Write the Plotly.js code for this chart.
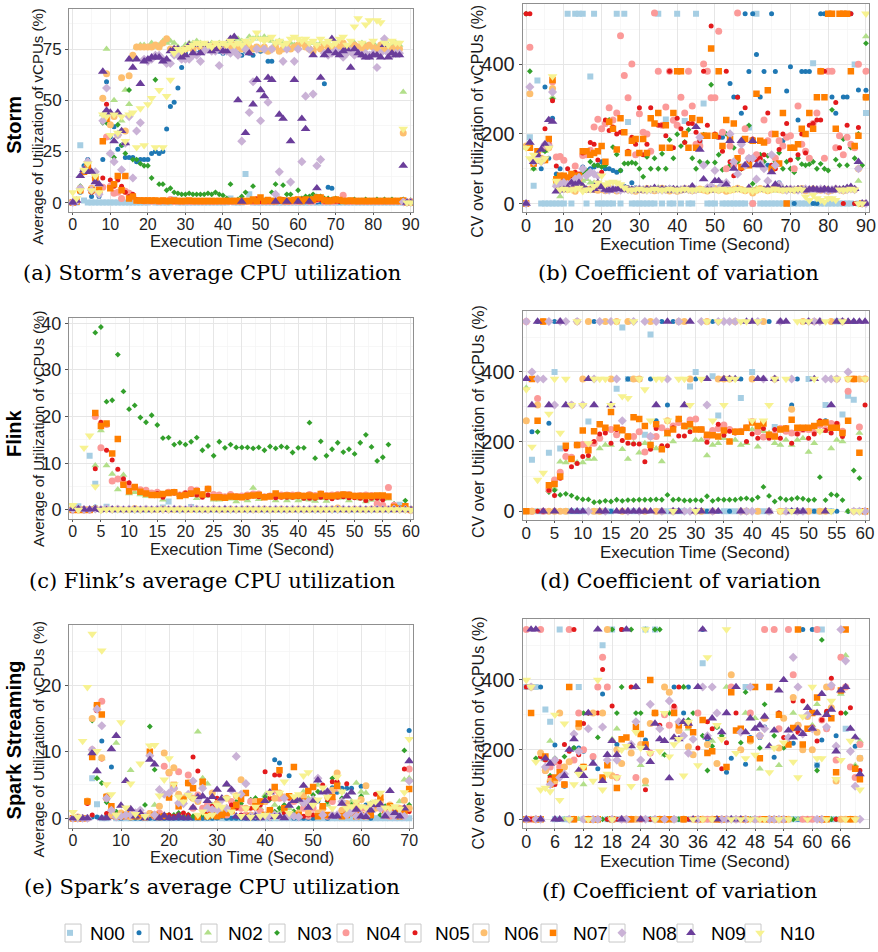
<!DOCTYPE html>
<html><head><meta charset="utf-8">
<script src="https://cdn.plot.ly/plotly-3.0.1.min.js"></script>
<style>html,body{margin:0;padding:0;background:#fff;}#chart{width:878px;height:952px;}</style>
</head><body><div id="chart"></div>
<script>
const seriesNames = ['N00','N01','N02','N03','N04','N05','N06','N07','N08','N09','N10'];
const seriesColors = ['#A6CEE3','#1F78B4','#B2DF8A','#33A02C','#FB9A99','#E31A1C','#FDBF6F','#FF7F00','#CAB2D6','#6A3D9A','#F7F291'];
const seriesSymbols = ['square','circle','triangle-up','diamond','circle','circle','circle','square','diamond','triangle-up','triangle-down'];
const seriesSizes = [6,5,7,4.5,7,5,7,6.5,7,8.5,8.5];

const secondsStorm = [0,1,2,3,4,5,6,7,8,9,10,11,12,13,14,15,16,17,18,19,20,21,22,23,24,25,26,27,28,29,30,31,32,33,34,35,36,37,38,39,40,41,42,43,44,45,46,47,48,49,50,51,52,53,54,55,56,57,58,59,60,61,62,63,64,65,66,67,68,69,70,71,72,73,74,75,76,77,78,79,80,81,82,83,84,85,86,87,88,89,90];
const secondsFlink = [0,1,2,3,4,5,6,7,8,9,10,11,12,13,14,15,16,17,18,19,20,21,22,23,24,25,26,27,28,29,30,31,32,33,34,35,36,37,38,39,40,41,42,43,44,45,46,47,48,49,50,51,52,53,54,55,56,57,58,59,60];
const secondsSpark = [0,1,2,3,4,5,6,7,8,9,10,11,12,13,14,15,16,17,18,19,20,21,22,23,24,25,26,27,28,29,30,31,32,33,34,35,36,37,38,39,40,41,42,43,44,45,46,47,48,49,50,51,52,53,54,55,56,57,58,59,60,61,62,63,64,65,66,67,68,69,70];

// ---------- (a) Storm average ----------
const stormAvgN00 = [0,0,28,1,0,0,0,0,0,0, 0,0,0,0,0,0,0,0,0,0, 0,0.5,0,0,0,0,0,1.5,0,0, 0,0,0,0,0,0,0,0,0,0, 0,0,2,0,0,0,14,4,0,0, 0,0,0,0,0,0,0,0,0,0, 0,0,0,0,0,0,0,0,0,0, 0,0,0,0,0,0,0,0,0,0, 0,0,0,0,0,0,0,0,0,0,0];
const stormAvgN01 = [0,0.5,5,18,21,3,14,3,21,59, 32,37,26,28,22,22,22,20,21,21, 21,24,25,24,25,36,47,49,56,66, 73,76,74,73,74,75,76,75,74,74, 73,74,75,76,73,72,74,73,72,75, 74,75,69,69,0.5,0.5,0.3,0.5,0.3,0.4, 0.5,0.3,0.4,0.3,0.5,0.3,0.4,58,7.5,7, 0.5,0.3,0.5,0.4,0.3,0.5,0.3,0.4,0.3,0.5, 0.4,0.3,0.5,0.3,0.4,0.3,0.5,0.3,0.4,0,0];
const stormAvgN02 = [0,1,7,16,20,7,13,6,43,75, 24,50,34,40,55,48,70,76,77,77, 76,78,76,77,79,78,79,78,76,75, 77,78,78,79,78,77,76,78,77,78, 77,78,77,79,80,79,78,81,80,81, 80,81,80,79,78,79,78,77,78,77, 76,78,77,76,78,77,78,77,78,76, 78,79,77,76,77,78,76,78,77,76, 78,76,77,80,77,76,78,77,54,0.5,1];
const stormAvgN03 = [0,1,8,16,19,5,12,6,39,39, 38,22,38,28,24,55,21,21,19,18, 18,12,60,9,9,6,7,5,4.5,4, 4,4.5,4,4,4,4,4.5,4,5,4, 3.5,2,9,1,1.5,3,5,1,8,0.5, 2,1,1,5,9,2,8.5,4,4,1, 6,2,3,3,4,3,3,2,2,1.5, 2,1,1.5,1,1,1.5,1,1,1.5,1, 1,1.5,1,1.5,1,1.5,1,1,1.5,0.5,1];
const stormAvgN04 = [0,1,6,15,17,6,13,5,7.5,32, 8,4.5,5,2,5.5,4.5,3,1,1,0.8, 0.8,0.6,0.7,0.5,0.8,0.6,1.5,0.5,0.6,0.5, 0.6,0.5,0.5,0.6,0.5,0.5,0.6,0.5,0.5,0.6, 0.5,0.6,0.5,0.5,0.6,0.5,0.5,0.6,0.5,0.5, 0.6,0.5,0.5,0.6,0.5,1.5,0.6,0.5,0.5,0.6, 0.5,0.6,1,0.5,0.6,1.5,2,0.5,0.6,0.5, 0.6,1,3.6,0.6,0.5,0.6,0.5,0.6,0.5,0.5, 0.6,0.5,0.5,0.6,0.5,0.5,0.6,0.5,0.5,0,0.5];
const stormAvgN05 = [0,0.5,6,16,17,5,11,5,12,48, 11,8,11,8,5,3,4,1.5,1,0.8, 1,0.7,1,0.5,0.6,0.8,1,0.5,0.6,0.7, 0.5,0.6,0.7,0.5,0.6,0.5,0.7,0.5,0.6,0.5, 0.6,0.5,0.7,0.5,0.6,0.5,0.8,0.5,0.6,1.8, 0.5,0.7,0.6,0.5,1,0.5,1.5,0.6,0.5,1.2, 0.5,1.5,1,0.6,0.8,1.5,1.5,0.6,1.5,0.8, 0.6,0.5,0.7,0.5,0.6,0.5,0.7,0.5,0.6,0.5, 0.6,0.5,0.7,0.5,0.6,0.5,0.7,0.5,0.6,0,0.5];
const stormAvgN06 = [0,0.5,7,15,18,7,12,7,51,63, 38,42,33,61,35,62,72,76,76,76, 76,76,77,76,78,80,75,75,74,74, 75,76,75,77,76,75,76,75,77,76, 76,75,76,77,76,75,77,76,75,76, 75,76,74,75,76,74,75,77,75,76, 77,78,76,75,74,76,75,77,76,75, 77,76,78,76,75,77,76,75,76,77, 76,75,77,75,76,75,76,75,34,0,0];
const stormAvgN07 = [0,0.5,6,15,18,6,12,6,30,41, 7,9,13,6,13,2,3,1,1,1, 1,1,1,0.8,1,0.7,0.8,1,0.8,0.8, 0.8,1,0.7,0.8,0.8,0.7,0.8,0.8,0.7,0.8, 0.8,0.7,0.8,0.8,0.7,0.8,0.7,0.8,1.5,0.8, 2.5,0.8,1.2,0.8,0.7,1.2,1,0.8,1,1.2, 1.5,0.8,1.5,1.2,1.5,2.5,2.5,1.2,0.8,1, 1.5,1.2,0.8,0.8,1,0.8,0.7,0.8,0.7,0.8, 0.7,0.8,0.7,0.8,0.8,0.7,0.8,0.7,1,0,0];
const stormAvgN08 = [0,0.5,7,16,20,6,15,4,40,56, 24,20,33,16,29,42,12,35,39,70, 69,70,72,72,70,68,68,72,72,70, 70,70,72,72,69,74,75,74,74,67, 74,74,73,74,72,30,75,44,59,75, 40,75,49,75,4,15,69,75,10,69, 75,20,52,75,53,18,21,73,72,73, 74,73,71,73,74,72,73,72,73,72, 73,66,73,80,73,72,73,73,0.3,0,0];
const stormAvgN09 = [0,1,13,16,15,15,10,9,64,45, 44,30,44,35,29,70,66,70,58,69, 70,71,71,71,69,70,74,75,75,71, 72,77,73,77,73,77,77,74,75,77, 74,74,80,81,50,0.5,34,73,48,60, 55,52,61,60,0.5,43,41,0.5,30,60, 0.5,41,36,0.5,72,7,61,72,74,80, 73,72,74,75,66,75,73,72,71,71, 72,72,71,77,71,73,72,72,18,0,0];
const stormAvgN10 = [5,2,6,16,19,6,13,5,43,42, 33,43,34,42,30,43,44,27,46,28, 48,51,27,55,27,52,60,73,75,74, 75,76,77,78,77,78,77,76,78,77, 78,77,79,77,78,77,79,78,80,83, 80,79,80,81,78,79,77,78,80,81, 80,79,80,78,79,77,80,78,79,77, 78,80,81,77,79,86,90,78,87,89, 79,89,88,78,77,79,78,78,36,0,0];

// ---------- (b) Storm CV ----------
const stormCvN00 = [0,190,51,353,0,0,0,0,0,0, 0,545,0,545,545,545,0,365,545,0, 0,0,0,0,545,0,545,234,0,0, 0,0,0,0,0,545,0,241,0,0, 545,0,237,0,0,545,174,287,0,0, 0,191,0,0,0,0,0,0,0,218, 0,545,0,0,0,0,0,0,0,0, 0,0,0,0,0,0,403,0,0,0, 0,0,0,0,0,0,0,399,0,0,260];
const stormCvN01 = [0,175,115,125,100,335,130,245,85,100, 65,60,55,65,75,105,95,100,105,110, 120,100,100,95,90,95,50,45,60,45, 40,40,42,40,40,42,40,40,45,42, 40,40,40,40,45,40,40,40,42,40, 40,45,190,40,345,306,306,259,545,379, 545,428,306,379,110,545,379,60,180,323, 393,0,240,379,379,379,0,0,545,545, 379,306,259,545,306,306,545,0,326,0,325];
const stormCvN02 = [160,160,100,120,125,150,165,305,60,20, 45,60,55,70,60,65,70,60,60,50, 45,42,36,45,40,47,45,38,41,43, 40,37,44,41,38,46,42,39,36,40, 43,40,37,41,44,39,36,40,43,40, 38,41,45,40,37,42,44,40,38,41, 40,44,38,41,43,39,37,42,45,40, 38,41,43,40,36,40,44,41,38,39, 43,40,37,41,44,40,38,42,65,0,480];
const stormCvN03 = [545,380,100,125,125,150,165,300,75,70, 60,70,55,80,75,90,95,120,110,110, 105,110,240,162,141,95,115,115,118,115, 100,77,134,100,130,100,143,100,183,130, 199,165,177,212,130,100,120,198,118,341, 118,140,97,200,110,160,120,100,110,224, 57,130,140,120,137,100,120,146,100,120, 100,90,130,113,110,113,120,100,114,100, 95,269,126,110,185,110,161,130,200,110,460];
const stormCvN04 = [0,449,115,130,125,165,170,350,134,135, 124,70,80,108,80,138,140,153,220,242, 215,230,275,240,260,482,368,304,401,140, 258,205,200,150,547,380,225,277,380,239, 225,305,260,380,280,170,165,401,380,304, 304,495,205,100,165,110,547,150,215,130, 0,140,120,240,180,200,130,180,165,190, 195,100,280,170,150,130,230,260,380,130, 380,380,160,195,140,190,170,160,400,0,380];
const stormCvN05 = [545,545,115,125,130,215,170,295,108,70, 60,100,75,90,85,145,150,175,170,125, 90,240,210,220,200,205,205,150,190,170, 275,140,170,275,230,225,225,195,380,160, 245,215,175,230,230,205,180,380,225,510, 200,190,150,380,120,80,305,100,275,120, 185,125,130,140,260,110,100,155,200,230, 125,160,140,200,145,225,230,240,240,380, 545,545,290,160,0,225,545,0,218,0,0];
const stormCvN06 = [165,315,120,125,130,125,160,330,65,60, 55,40,50,35,70,45,40,42,40,38, 40,37,43,40,36,41,44,40,38,35, 40,38,43,41,37,40,44,39,36,40, 35,38,43,41,37,40,42,39,36,40, 43,38,41,35,38,40,44,40,37,41, 30,38,43,40,37,41,44,40,38,40, 42,38,41,43,37,40,42,39,38,41, 35,38,42,40,37,41,43,40,100,0,305];
const stormCvN07 = [0,160,115,150,125,125,185,355,70,80, 80,75,85,80,80,150,150,140,145,150, 165,120,235,215,155,245,205,145,180,185, 145,185,145,245,230,260,160,225,160,260, 380,380,200,160,245,160,240,195,195,445, 195,380,165,240,185,230,130,105,185,110, 180,315,180,175,325,100,200,115,260,0, 160,160,170,215,200,260,215,305,380,305, 545,545,215,545,545,545,380,165,195,0,305];
const stormCvN08 = [0,335,120,130,120,170,165,320,50,55, 60,55,60,70,75,100,80,90,85,80, 45,40,38,42,40,38,42,40,38,40, 42,40,38,40,42,40,38,40,42,40, 38,40,42,40,38,40,190,110,45,50, 95,40,55,60,200,120,85,170,110,130, 130,70,115,100,65,140,110,55,40,38, 42,40,38,40,42,40,38,40,42,40, 38,40,42,40,38,40,42,40,100,0,0];
const stormCvN09 = [0,175,120,140,155,170,240,235,35,38, 40,45,60,55,60,50,40,38,42,60, 48,40,38,40,42,45,40,42,40,38, 40,38,42,40,45,40,42,40,38,42, 40,38,42,40,50,220,155,70,40,38, 65,65,42,55,180,100,40,180,110,45, 180,110,110,40,45,90,55,45,40,42, 40,38,42,40,38,40,42,40,38,42, 40,38,42,40,42,45,48,42,120,0,0];
const stormCvN10 = [160,130,140,125,120,130,160,365,65,40, 42,40,40,40,45,35,40,40,50,60, 80,55,60,62,60,55,45,40,38,40, 42,40,38,40,42,40,38,40,42,40, 38,40,42,40,38,40,42,40,38,40, 40,38,42,40,38,40,42,40,38,40, 35,38,42,40,38,40,42,40,38,40, 40,38,42,40,20,10,25,15,10,5, 15,15,10,40,38,40,42,40,0,0,545];

// ---------- (c) Flink average ----------
const flinkAvgN00 = [0.3,0.8,0,11.6,5.6,0,0.7,0,0,0, 0,0,0,0,0,0,0.5,1.8,0,0, 0,0.6,0,0,0,0,0,0,0,0, 0,0,0,0,0,0,0,0,0,0, 0,0,0,0,0,0,0,0,0,0, 0,0,0,0,0,0,0,0,1.1,0, 0];
const flinkAvgN01 = [0.1,0.2,0.1,0.1,0.6,0.1,0.2,0.1,0.1,0.1, 0.1,0.2,0.1,0.1,0.1,0.1,0.1,0.1,0.1,0.1, 0.1,0.2,0.3,0.1,0.1,0.1,0.1,0.2,0.1,0.1, 0.1,0.1,0.1,0.1,0.1,0.1,0.1,0.1,0.1,0.1, 0.1,0.1,0.1,0.1,0.1,0.1,0.1,0.1,0.1,0.1, 0.1,0.1,0.1,0.1,0.1,0.1,0.1,0.1,0.1,0.1, 0.1];
const flinkAvgN02 = [0,0,0,0,9.5,17,9.5,7.7,4.4,7.5, 3.5,3.8,3.3,3,3.2,3,2.2,3.7,3.5,3.2, 3.2,3.2,2.5,3.2,3,2.2,2.2,2.4,2.4,1.8, 2.5,2,4.7,2.3,2.8,2.7,2,2.7,2,2.6, 2,2.3,2.2,1.9,2.5,1.9,2.6,2.6,2.6,2, 2.7,2.4,1.8,2.1,2.5,2.3,2.4,1,0.3,0.3, 0];
const flinkAvgN03 = [0,0,0,0,38,39.2,23.2,23.5,33.3,25.4, 21.6,22.4,19.8,18.8,20.3,18.2,15.4,15.5,14,14.4, 14,14.6,15.5,12.8,13.7,11.6,14.6,13.3,14,13.4, 13.4,13.4,13.2,13.4,12.8,13.6,13.2,13.6,13.4,12.3, 13.3,13.3,18.7,11.1,14.7,11.6,13,14.4,12.4,13, 12,14.4,16.1,13.5,10.5,11.3,14,1.3,0.5,2, 0.3];
const flinkAvgN04 = [0,0,0,0,20,13.3,18.3,6.2,6.6,5.8, 4.8,4.8,4.3,4.2,3.6,3.8,3.3,3.8,3.8,3.2, 3.5,4.4,4.2,3.3,4.5,3.3,3.2,2.8,3.3,2.9, 3,3.2,3.4,3.4,2.8,3,3.3,3.2,3.2,3.2, 3.2,3,3.3,3.1,3.4,3.1,3.2,3.3,3.3,3.3, 3,3.1,3.2,3.1,1.3,1,4.8,1,0.2,0.3, 0];
const flinkAvgN05 = [0,0,0,0,8.8,18.8,12.8,10.7,8.7,6.7, 5.8,4.8,3.8,3.5,3.2,3.5,2.7,3.6,3.6,3.2, 3.6,3.3,3.2,2.7,3.2,2.6,2.8,2.7,2.8,2.7, 2.9,2.7,3,2.8,2.8,3,2.6,2.7,2.7,2.7, 2.8,2.5,2.5,2.5,2.7,2.6,2.4,2.7,2.8,2.6, 2.6,2.5,2,2.5,2.5,2.2,2.8,0.8,0.2,0.5, 0];
const flinkAvgN06 = [0.2,0.1,0.1,0.1,0.3,0.1,0.2,0.1,0.2,0.1, 0.1,0.3,0.1,0.2,0.1,0.1,0.2,0.1,0.1,0.2, 0.1,0.1,0.2,0.1,0.1,0.2,0.1,0.1,0.2,0.1, 0.1,0.2,0.1,0.1,0.2,0.1,0.1,0.2,0.1,0.1, 0.2,0.1,0.1,0.2,0.1,0.1,0.2,0.4,0.1,0.1, 0.2,0.1,0.1,0.2,0.1,0.1,0.2,0.1,0.1,0.1, 0];
const flinkAvgN07 = [0,0,0,0,20.8,18,18.5,12.1,15.2,5.4, 4,4.9,3.9,3.5,3.2,3.2,3.4,3.6,3.8,3, 3.2,3.5,4,3.3,4.5,2.7,2.7,2.6,2.9,2.8, 2.7,3,3.1,3.2,2.7,2.9,3.5,3,3.1,3, 3.1,3,3.1,2.9,3.4,3,3,3.1,3.3,3.2, 3,3,3,3,3.1,3.1,2.9,0.6,0.3,0.8, 0];
const flinkAvgN08 = [0.1,0.2,0.1,0.1,0.2,0.1,0.3,0.1,0.2,0.1, 0.2,0.1,0.1,0.2,0.1,0.2,0.1,0.1,0.2,0.1, 0.1,0.4,0.2,0.1,0.1,0.2,0.1,0.2,0.1,0.1, 0.2,0.1,0.1,0.2,0.1,0.1,0.2,0.1,0.1,0.2, 0.1,0.1,0.2,0.1,0.1,0.2,0.1,0.1,0.2,0.1, 0.1,0.2,0.1,0.1,0.2,0.1,0.1,0.2,0.1,0.1, 0];
const flinkAvgN09 = [0.2,0.2,0.1,0.1,0.2,0,0,0.1,0,0, 0,0.1,0,0,0,0,0,0,0.1,0, 0,0,0,0,0,0,0,0.1,0,0, 0,0,0,0,0,0,0,0,0,0, 0,0,0,0,0,0,0,0,0,0, 0,0,0,0,0,0,0,0,0,0, 0];
const flinkAvgN10 = [1,0,13.3,15.9,5,0,0.1,0.1,0.1,0.1, 0.1,0.1,0.1,0.1,0.1,0.1,0.1,0.1,0.1,0.1, 0.1,0.1,0.1,0.1,0.1,0.1,0.1,0.1,0.1,0.1, 0.1,0.1,0.1,0.1,0.1,0.1,0.1,0.1,0.1,0.1, 0.1,0.1,0.1,0.1,0.1,0.1,0.1,0.1,0.1,0.1, 0.1,0.1,0.1,0.1,0.1,0.1,0.1,0.1,0.1,0.1, 0];

// ---------- (d) Flink CV ----------
const flinkCvN00 = [0,148,0,0,168,400,180,0,0,0, 0,258,0,0,0,0,352,528,380,0, 380,220,508,0,0,0,0,0,0,358, 400,0,0,388,275,0,0,0,325,0, 400,0,0,0,242,0,0,0,0,0, 380,0,0,305,0,545,278,332,320,0, 0];
const flinkCvN01 = [0,228,545,0,253,545,0,545,0,0, 380,545,545,0,545,0,380,0,380,545, 0,545,380,260,545,305,545,0,545,0, 380,545,0,545,0,545,0,380,380,545, 380,0,380,545,380,0,0,305,380,0, 545,0,545,260,0,0,545,0,545,0, 0];
const flinkCvN02 = [355,0,0,0,60,65,142,140,150,140, 140,150,150,180,190,190,225,178,150,195, 168,195,193,180,143,220,200,265,245,240, 205,205,160,190,195,210,200,205,190,195, 235,185,230,225,195,190,205,190,205,210, 170,195,230,230,180,205,200,0,0,225, 0];
const flinkCvN03 = [0,0,228,0,55,60,47,50,45,38, 34,34,26,27,30,28,33,30,32,32, 33,33,33,34,33,47,33,34,31,31, 32,31,43,30,34,33,33,33,36,37, 33,40,70,44,28,37,33,35,38,36, 32,33,98,32,48,46,32,0,117,95, 0];
const flinkCvN04 = [545,0,324,0,62,90,112,157,155,190, 192,190,195,210,235,235,220,235,215,215, 228,170,215,215,240,230,245,255,245,262, 265,235,212,232,238,248,235,228,230,240, 258,228,213,218,218,238,230,225,225,235, 235,232,248,235,252,250,230,345,380,242, 380];
const flinkCvN05 = [0,0,0,0,60,45,95,178,128,137, 157,160,200,222,225,195,235,203,195,193, 193,142,178,238,188,188,240,216,216,228, 235,235,198,218,250,218,230,225,228,200, 222,210,238,210,235,210,240,195,222,235, 210,222,260,232,225,252,215,545,380,210, 305];
const flinkCvN06 = [260,0,305,545,0,0,0,0,305,545, 380,545,0,0,545,380,545,0,545,380, 380,0,545,0,0,260,0,545,545,380, 0,0,545,0,380,380,380,545,0,0, 380,0,545,0,380,0,0,293,0,545, 0,545,0,0,545,380,545,380,0,380, 380];
const flinkCvN07 = [0,380,260,545,75,78,100,188,150,190, 232,175,230,250,240,285,240,233,215,270, 265,245,190,250,178,225,235,265,245,250, 235,235,220,218,215,232,200,228,228,240, 255,245,252,220,215,235,238,263,240,240, 240,245,253,255,240,240,225,260,380,168, 0];
const flinkCvN08 = [545,400,380,380,545,305,545,545,305,545, 305,0,380,545,0,545,380,260,0,545, 0,545,215,545,0,380,0,545,0,0, 0,545,305,0,545,545,545,545,0,0, 0,545,380,0,380,545,0,380,0,0, 545,545,545,380,380,380,545,400,0,0, 0];
const flinkCvN09 = [380,305,545,0,305,0,545,305,0,0, 0,380,305,0,0,305,0,0,0,0, 0,0,0,305,0,545,0,0,305,545, 0,0,380,0,0,380,380,380,0,545, 545,380,380,0,380,545,545,0,0,0, 545,380,545,0,305,545,545,545,545,545, 545];
const flinkCvN10 = [350,185,90,110,280,380,225,380,305,545, 305,195,380,380,380,305,545,330,325,545, 380,350,260,380,380,260,0,380,380,305, 0,380,545,260,545,305,380,380,545,545, 260,545,260,305,380,0,380,0,545,545, 545,380,230,545,0,380,545,380,0,0, 380];

// ---------- (e) Spark average ----------
const sparkAvgN00 = [0,0,0,0,6,2.1,0,0,0.3,0, 0,0,0,0,0,0,0,0,0,0, 0,0,0,0,0,0,0,0,0,0, 0.2,0,0,0,0,0,0,0,0,0, 0,0,0,0,0,0,0,0,0,0, 0,0,0,0,0,0,0,0,0,0, 0,0,0,0,0,0,0,0,0,0, 0];
const sparkAvgN01 = [0,0,0,0,0.2,0.2,11.6,0.2,7.7,0.2, 0,0.2,0,0,0,0,0,0,0,0, 0,0,0,0,0,0,0,0,0,0, 0,0.3,0,0,0,0,0,0,0,0, 0.3,0,8.8,8.3,0.5,6.4,0,0,0,0, 0,2.6,4,0,4.6,3.9,4.5,4.5,4.5,2, 4.8,2,0,1.5,2,1.6,0.5,0.5,0.5,1, 13.2];
const sparkAvgN02 = [0,0,0,0,10,6,9,3,1,11.3, 0.3,0.5,7.2,0.5,0.3,0.2,0.5,2,0.5,0.3, 3.5,4.5,0.5,0.3,0.5,3,13,6,5.2,2, 2.5,1.5,5,1,2,1.5,0.5,2.5,3,1.5, 3.5,3,2,1,0.5,1.5,1,2.5,4,3, 2.5,5,1.5,2,3,5.5,4,2,2.5,5.3, 4,3.8,2.2,1.5,3,1.5,1,0.5,2.5,5.8, 6];
const sparkAvgN03 = [0,0,0,0,14.7,6,5.3,2.4,0.5,1, 0.3,0.5,0.8,0.3,0.5,2,13.8,7.3,0.5,0.3, 0.5,0.5,0.8,0.3,0.5,0.3,2.5,0.5,0.8,0.5, 1.5,1,1.3,1.8,2.5,2.2,1.5,2.8,3,2.5, 3.2,2.8,1,1.5,2,0.5,1,1.5,2,0.8, 3.5,4,1.5,2.5,6,4.5,3,1,2,1.5, 3.3,4.8,2,1.5,0.5,1.8,0.5,1,0.5,10.2, 2];
const sparkAvgN04 = [0,0,0,0,10.3,16.3,17.6,3,0.8,0.3, 0.5,0.3,0.5,0.8,0.3,0.2,0.7,0.3,0.8,7.8, 6.8,4.5,7,3,6.5,1.5,3.5,1.5,2,1.5, 1.2,1.5,0.5,2.5,2,1.5,0.5,2.5,2,1, 2.5,0.3,4.2,3,1.5,0.5,2.5,0.5,1.5,0.3, 1.5,0.5,1.5,0.3,2.5,4.5,1,0.5,1.5,0.8, 1.5,1.5,0.5,2,1.5,0.8,0.3,0.8,0.5,1.5, 7.4];
const sparkAvgN05 = [0,0,0,2.2,0.5,16.2,8.9,0.7,0.3,0.3, 0.3,0.5,0.3,0.5,0.3,0.3,0.5,0.3,0.2,0.3, 0.5,0.3,0.5,0.8,0.5,9.2,7.1,5.5,0.8,1.8, 3,2.8,1.5,2,1.5,0.5,0.3,1.5,1.5,2, 7,3,6.5,6.5,0.8,3,0.3,0.5,0.3,0.5, 0.5,0.3,5,2.8,5.5,5.5,0.8,5.2,0.8,0.5, 0.5,4.8,0.5,3.6,1.5,0.5,1.5,0.5,0.3,7.4, 1];
const sparkAvgN06 = [0,0.2,0,2.6,15,17,9.1,3.3,0.5,0.3, 0.8,0.5,0.2,0.5,0.3,0.2,0.7,0.5,1.8,9.8, 6.9,7.6,3.6,3,5.3,3,2.5,5,1.5,3.8, 2.2,1.5,3,1,3.4,5.8,1.5,0.5,2.5,2.5, 2.5,1.2,3,3.8,3.2,0.5,2.8,0.8,3.4,0.8, 2.2,0.8,1.5,3.2,4.2,6.8,1.2,2.2,1.5,2, 2.8,4.9,2,1.5,2.5,0.5,2,0.8,1.5,2.7, 1.5];
const sparkAvgN07 = [0,0,0,2.5,9.2,17,15.6,3.2,1.8,0.3, 0.3,0.5,0.8,0.3,0.5,0.2,10,0.5,0.2,0.3, 3.1,5,1.8,2.8,5.3,4.5,0.2,5.5,0.3,0.5, 0.3,0.5,0.8,1.2,2,2.9,3.8,0.3,1.8,2.5, 0.5,1.2,4.7,7.2,1.5,3.3,7.7,0.5,2.5,4.1, 4.7,0.3,1.8,0.5,3.2,4.9,0.3,0.5,0.8,0.3, 0.5,0.3,0.5,2,3.1,0.5,1.8,0.8,0.3,1, 4.4];
const sparkAvgN08 = [0,0,0,0,10.3,16.4,13.9,3,1.2,0.2, 0.3,0.5,0.5,0.8,1.2,0.3,9.4,0.5,4.3,3.6, 3.8,4.5,2.3,2.2,3.6,5.6,2.8,4.5,1.5,1.3, 1.2,2.8,1.5,4.2,9.3,3.6,5.2,0.3,0.5,0.2, 0.3,0.2,0.5,0.3,3,0.5,0.3,0.2,2.3,2.5, 2.8,6,0.5,4,0.5,0.5,2.5,0.5,1,0.3, 0.5,0.3,1.5,2.3,1.5,0.5,0.8,0.3,0.5,0.3, 5.6];
const sparkAvgN09 = [0,0,0,0,9.8,7.1,0,0,10.4,12.4, 1.9,5.6,1.4,0.3,0.8,0,8.8,8.1,0,0.4, 0,0,0.3,0,0,1.6,3.2,3.3,2.6,3.2, 4.3,3,5.1,4.3,0.3,0.2,0,0,0.3,0, 2.6,3.9,0.2,0.3,0,1.9,2.6,2.8,4.9,1.6, 2.5,5.7,3.9,4,0.3,0.3,2.2,3.3,3.9,1.3, 0.3,0.2,1.2,2,2.1,0.3,4.1,0.8,0.3,1.5, 8.6];
const sparkAvgN10 = [0.9,0.2,11.6,19.7,27.7,10.1,25.2,5.1,3.6,0.5, 14.4,1.6,5.2,0.6,8.2,0.3,10.9,11,3.4,5.8, 9,5.1,3.2,2.5,3.5,3,0.5,1,0.3,0.5, 2,1.7,3,1,3.4,0.3,1.5,0.2,1.7,0.3, 0.5,3.8,0.3,3.8,5.5,0.8,3.3,3.6,6.4,6.9, 2,2.8,4.6,3.2,1.5,6.2,4,1.5,1.8,2.5, 1.8,1.6,2.2,2.5,3.8,1.6,1.5,1.8,1.4,3.9, 11.9];

// ---------- (f) Spark CV ----------
const sparkCvN00 = [380,0,380,0,315,280,0,545,0,0, 0,380,0,0,0,0,500,0,545,0, 0,0,0,0,0,545,0,545,0,0, 0,0,0,0,0,0,0,448,0,0, 0,0,0,0,0,0,380,0,0,0, 0,0,0,0,0,0,0,0,0,0, 0,155,545,0,0,0,0,260,0,0, 175];
const sparkCvN01 = [0,0,0,380,175,160,213,0,95,0, 205,205,195,0,175,145,360,0,0,215, 545,0,0,0,0,228,0,0,0,380, 0,380,0,305,380,0,0,545,230,380, 265,0,135,175,0,0,158,235,0,235, 265,0,178,305,0,220,218,0,545,0, 545,155,228,0,0,240,0,0,0,210, 175];
const sparkCvN02 = [0,0,0,0,170,225,0,130,0,0, 0,0,100,0,0,0,110,0,230,260, 0,0,0,0,155,100,0,305,0,185, 0,0,0,380,260,0,0,0,0,225, 265,0,380,0,0,0,305,0,290,145, 290,0,0,155,0,0,305,0,0,0, 270,330,0,0,0,0,360,470,0,155, 225];
const sparkCvN03 = [0,0,175,180,145,125,175,130,180,200, 205,305,305,305,0,235,0,0,545,305, 380,0,545,305,305,545,0,545,545,185, 305,305,0,380,285,305,0,240,140,210, 265,240,0,0,0,220,365,0,0,205, 330,0,240,0,205,0,0,545,0,0, 0,140,515,305,0,0,0,305,0,150, 0];
const sparkCvN04 = [545,0,0,545,140,150,165,150,100,545, 170,305,200,0,180,380,465,380,0,120, 0,0,0,120,0,215,190,0,0,300, 270,320,255,0,270,0,305,0,0,0, 0,0,0,380,0,0,0,305,0,0, 545,0,545,260,0,545,415,270,0,0, 0,545,285,260,380,170,465,380,150,120, 215];
const sparkCvN05 = [380,0,0,180,170,120,100,165,215,195, 545,185,275,305,0,305,430,0,325,0, 545,0,380,380,0,85,0,0,270,0, 0,325,380,0,0,0,205,0,280,260, 0,145,220,0,305,0,0,0,0,0, 0,0,0,305,235,0,340,250,340,0, 265,225,285,310,405,0,305,0,320,0, 140];
const sparkCvN06 = [0,380,0,190,140,110,110,305,150,165, 0,265,150,0,305,0,305,545,125,200, 160,0,190,0,215,110,275,305,0,380, 365,0,255,0,208,185,0,0,215,0, 160,0,0,415,0,200,0,225,0,240, 290,0,0,205,290,0,350,270,200,295, 200,250,0,380,320,110,0,0,0,0, 175];
const sparkCvN07 = [0,305,0,0,180,100,120,135,100,380, 0,275,150,0,0,0,120,155,0,90, 230,235,0,265,245,215,400,305,0,0, 0,305,270,0,270,250,0,285,190,195, 0,0,150,365,255,260,0,230,380,175, 0,380,0,300,0,215,262,545,215,260, 305,350,0,0,290,135,370,545,0,145, 115];
const sparkCvN08 = [0,380,0,0,150,100,170,120,130,0, 245,195,0,260,0,0,265,170,0,170, 0,0,215,280,170,0,330,0,260,0, 340,0,280,240,190,230,0,380,240,380, 305,0,0,0,0,250,0,380,0,240, 260,0,0,0,0,235,465,380,245,300, 260,0,0,265,385,210,545,455,195,95, 0];
const sparkCvN09 = [0,545,545,0,175,160,0,0,125,200, 230,140,125,305,160,545,110,185,225,185, 0,545,210,380,0,205,165,275,230,225, 118,235,230,280,275,0,380,545,235,290, 0,250,305,0,380,0,250,290,260,270, 295,210,255,370,400,255,235,260,245,320, 260,305,360,300,315,195,370,380,260,235, 130];
const sparkCvN10 = [400,380,165,85,90,80,300,55,275,0, 100,130,150,0,110,400,85,130,0,120, 200,210,95,250,205,545,190,0,195,305, 180,215,230,125,280,0,155,0,465,0, 270,230,545,0,190,0,175,0,185,0, 0,135,205,0,220,0,165,120,295,0, 380,175,175,0,340,115,170,0,225,0, 85];

const panels = [
  {x: secondsStorm, xa:'x',  ya:'y',  data:[stormAvgN00,stormAvgN01,stormAvgN02,stormAvgN03,stormAvgN04,stormAvgN05,stormAvgN06,stormAvgN07,stormAvgN08,stormAvgN09,stormAvgN10]},
  {x: secondsStorm, xa:'x2', ya:'y2', data:[stormCvN00,stormCvN01,stormCvN02,stormCvN03,stormCvN04,stormCvN05,stormCvN06,stormCvN07,stormCvN08,stormCvN09,stormCvN10]},
  {x: secondsFlink, xa:'x3', ya:'y3', data:[flinkAvgN00,flinkAvgN01,flinkAvgN02,flinkAvgN03,flinkAvgN04,flinkAvgN05,flinkAvgN06,flinkAvgN07,flinkAvgN08,flinkAvgN09,flinkAvgN10]},
  {x: secondsFlink, xa:'x4', ya:'y4', data:[flinkCvN00,flinkCvN01,flinkCvN02,flinkCvN03,flinkCvN04,flinkCvN05,flinkCvN06,flinkCvN07,flinkCvN08,flinkCvN09,flinkCvN10]},
  {x: secondsSpark, xa:'x5', ya:'y5', data:[sparkAvgN00,sparkAvgN01,sparkAvgN02,sparkAvgN03,sparkAvgN04,sparkAvgN05,sparkAvgN06,sparkAvgN07,sparkAvgN08,sparkAvgN09,sparkAvgN10]},
  {x: secondsSpark, xa:'x6', ya:'y6', data:[sparkCvN00,sparkCvN01,sparkCvN02,sparkCvN03,sparkCvN04,sparkCvN05,sparkCvN06,sparkCvN07,sparkCvN08,sparkCvN09,sparkCvN10]}
];

const traces = [];
panels.forEach((p, pi) => {
  p.data.forEach((vals, si) => {
    traces.push({
      type:'scatter', mode:'markers', x:p.x, y:vals, xaxis:p.xa, yaxis:p.ya,
      name:seriesNames[si], legendgroup:seriesNames[si], showlegend: pi===0,
      marker:{symbol:seriesSymbols[si], color:seriesColors[si], size:seriesSizes[si], line:{width:0}},
      hoverinfo:'skip'
    });
  });
});
// empty, invisible legend spacer so the last legend label is not clipped
traces.push({type:'scatter', mode:'markers', x:[null], y:[null], xaxis:'x', yaxis:'y',
  name:' ', showlegend:true, legendgroup:'spacer',
  marker:{color:'rgba(0,0,0,0)', size:1}, hoverinfo:'skip'});

const SANS = 'Liberation Sans, Arial, Helvetica, sans-serif';
const SERIF = 'DejaVu Serif, Liberation Serif, serif';
const W = 878, H = 952;
const px = v => v / W;
const py = v => 1 - v / H;

function makeAxis(domain, range, dtick, minorDtick, anchor, fontSize, isX) {
  const a = {
    domain, range, dtick, tick0:0, anchor, autorange:false,
    showline:true, mirror:true, linecolor:'#8f8f8f', linewidth:1,
    showgrid:true, gridcolor:'#E6E6E6', gridwidth:1, zeroline:false,
    ticks:'outside', ticklen:3, tickwidth:1, tickcolor:'#555',
    tickfont:{family:SANS, size:fontSize, color:'#1f1f1f'},
    minor:{dtick:minorDtick, tick0:0, showgrid:true, gridcolor:'#F3F3F3', gridwidth:0.7},
    fixedrange:true, automargin:false
  };
  if (isX) { a.ticklen = 2; a.ticklabelstandoff = -4; }
  return a;
}

const ann = [];
function addText(text, x, y, size, opts) {
  ann.push(Object.assign({text, x:px(x), y:py(y), xref:'paper', yref:'paper', showarrow:false,
    xanchor:'center', yanchor:'middle', font:{family:SANS, size, color:'#1a1a1a'}}, opts||{}));
}
const avgTitle = 'Average of Utilization of vCPUs (%)';
const cvTitle = 'CV over Utilization of vCPUs (%)';
const xTitle = 'Execution Time (Second)';
addText(avgTitle, 38, 127, 15, {textangle:-90});
addText(cvTitle, 478, 122, 16, {textangle:-90});
addText(avgTitle, 38, 430, 15, {textangle:-90});
addText(cvTitle, 478, 423, 16, {textangle:-90});
addText(avgTitle, 38, 741, 15, {textangle:-90});
addText(cvTitle, 478, 735, 16, {textangle:-90});
addText(xTitle, 242, 242, 16.5);
addText(xTitle, 695, 245, 17);
addText(xTitle, 242, 550, 16.5);
addText(xTitle, 695, 554, 17);
addText(xTitle, 242, 859, 16.5);
addText(xTitle, 695, 863, 17);
const boldFont = {family:SANS, size:20, color:'#000'};
addText('<b>Storm</b>', 14, 125, 20, {textangle:-90, font:boldFont});
addText('<b>Flink</b>', 14, 434, 20, {textangle:-90, font:boldFont});
addText('<b>Spark Streaming</b>', 14, 742, 20, {textangle:-90, font:boldFont});
const capFont = {family:SERIF, size:21, color:'#000'};
addText('(a) Storm’s average CPU utilization', 212, 274, 21, {font:capFont});
addText('(b) Coefficient of variation', 678, 274, 21, {font:capFont});
addText('(c) Flink’s average CPU utilization', 212, 582, 21, {font:capFont});
addText('(d) Coefficient of variation', 680, 582, 21, {font:capFont});
addText('(e) Spark’s average CPU utilization', 212, 889, 21, {font:capFont});
addText('(f) Coefficient of variation', 679, 893, 21, {font:capFont});

// legend key boxes (ggplot-style key outlines)
const legendStartX = 53, legendStep = 68, legendY = 935;
const shapes = seriesNames.map((n, i) => ({
  type:'rect', xref:'paper', yref:'paper',
  x0:px(legendStartX + 12 + legendStep * i), x1:px(legendStartX + 28 + legendStep * i),
  y0:py(legendY + 9), y1:py(legendY - 9),
  line:{color:'#C8C8C8', width:1}, fillcolor:'rgba(0,0,0,0)', layer:'below'
}));

const layout = {
  width:W, height:H, margin:{l:0,r:0,t:0,b:0}, paper_bgcolor:'#fff', plot_bgcolor:'#fff',
  font:{family:SANS, color:'#1a1a1a'},
  xaxis:  makeAxis([px(69), px(413)], [-1, 90.6], 10, 5, 'y', 16, true),
  yaxis:  makeAxis([py(212), py(9)], [-4.4, 94.6], 25, 12.5, 'x', 17),
  xaxis2: makeAxis([px(522.7), px(869)], [-0.9, 90.8], 10, 5, 'y2', 18, true),
  yaxis2: makeAxis([py(212), py(4)], [-23, 573], 200, 100, 'x2', 20),
  xaxis3: makeAxis([px(69), px(413)], [-0.66, 60.36], 5, 2.5, 'y3', 16, true),
  yaxis3: makeAxis([py(520), py(319)], [-1.93, 41.07], 10, 5, 'x3', 18),
  xaxis4: makeAxis([px(522.7), px(869)], [-0.64, 60.7], 5, 2.5, 'y4', 17, true),
  yaxis4: makeAxis([py(520.7), py(311.7)], [-24, 575], 200, 100, 'x4', 20),
  xaxis5: makeAxis([px(69), px(413)], [-0.83, 70.8], 10, 5, 'y5', 16, true),
  yaxis5: makeAxis([py(829.3), py(626)], [-1.4, 29.1], 10, 5, 'x5', 18),
  xaxis6: makeAxis([px(522.7), px(869)], [-0.76, 71.9], 6, 3, 'y6', 18, true),
  yaxis6: makeAxis([py(829.3), py(620)], [-23.8, 576], 200, 100, 'x6', 20),
  showlegend:true,
  legend:{orientation:'h', x:px(legendStartX), xanchor:'left', y:py(legendY), yanchor:'middle',
    font:{family:SANS, size:19, color:'#000'}, entrywidth:24, entrywidthmode:'pixels',
    itemwidth:30, bgcolor:'rgba(0,0,0,0)', borderwidth:0, tracegroupgap:0},
  shapes: shapes,
  annotations: ann
};

Plotly.newPlot('chart', traces, layout, {displayModeBar:false, staticPlot:true});
</script>
</body></html>
